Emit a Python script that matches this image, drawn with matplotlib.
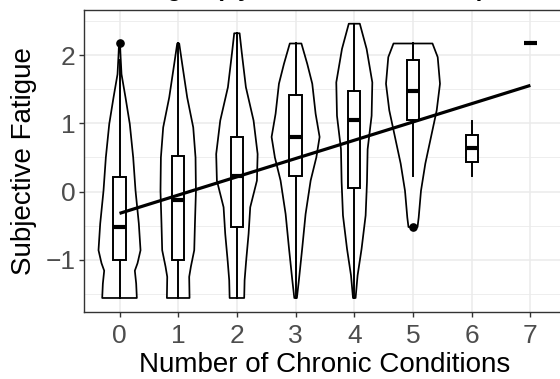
import matplotlib
matplotlib.use("Agg")
import matplotlib.pyplot as plt
import numpy as np

plt.rcParams['font.family'] = ['Liberation Sans', 'DejaVu Sans']

# ---- data ----
groups = [0, 1, 2, 3, 4, 5, 6, 7]
tick_labels = ["0", "1", "2", "3", "4", "5", "6", "7"]

# violin outlines: y levels and half-widths (x units), per group
violin_y = {
    0: [2.17, 2.0, 1.72, 1.38, 0.99, 0.50, 0.01, -0.47, -0.86, -1.05, -1.16, -1.35, -1.56],
    1: [2.17, 1.87, 1.38, 0.94, 0.50, 0.01, -0.47, -0.86, -1.10, -1.25, -1.56],
    2: [2.32, 2.02, 1.53, 1.04, 0.55, 0.16, -0.23, -0.62, -1.01, -1.30, -1.56],
    3: [2.17, 1.87, 1.58, 1.14, 0.80, 0.50, 0.16, -0.33, -0.82, -1.30, -1.56],
    4: [2.46, 2.09, 1.60, 1.11, 0.62, 0.14, -0.35, -0.84, -1.23, -1.56],
    5: [2.17, 1.97, 1.58, 1.19, 0.80, 0.41, 0.01, -0.38, -0.52],
}
violin_hw = {
    0: [0.009, 0.017, 0.034, 0.102, 0.175, 0.233, 0.273, 0.329, 0.358, 0.307, 0.261, 0.284, 0.295],
    1: [0.017, 0.068, 0.153, 0.256, 0.295, 0.302, 0.285, 0.273, 0.216, 0.187, 0.193],
    2: [0.046, 0.085, 0.153, 0.284, 0.353, 0.341, 0.227, 0.199, 0.158, 0.131, 0.124],
    3: [0.099, 0.199, 0.284, 0.341, 0.409, 0.353, 0.256, 0.170, 0.114, 0.056, 0.022],
    4: [0.094, 0.210, 0.307, 0.295, 0.227, 0.216, 0.193, 0.124, 0.056, 0.022],
    5: [0.332, 0.421, 0.460, 0.404, 0.307, 0.210, 0.136, 0.097, 0.077],
}

# boxplot statistics
q1 = [-1.00, -1.00, -0.52, 0.23, 0.05, 1.05, 0.43, 2.17]
med = [-0.52, -0.12, 0.23, 0.80, 1.05, 1.48, 0.64, 2.17]
q3 = [0.22, 0.52, 0.80, 1.42, 1.48, 1.93, 0.835, 2.17]
whis_lo = [-1.56, -1.56, -1.56, -1.56, -1.56, 0.23, 0.23, 2.17]
whis_hi = [1.93, 2.17, 2.32, 2.17, 2.46, 2.17, 1.04, 2.17]
outliers = [[2.17], [], [], [], [], [-0.52], [], []]

# linear fit
fit_intercept = -0.32
fit_slope = 0.268
fit_x = [0, 7]

title = "Fatigue (by Chronic Conditions)"
xlabel = "Number of Chronic Conditions"
ylabel = "Subjective Fatigue"

# ---- plot ----
fig = plt.figure(figsize=(5.6, 3.79), dpi=100)
ax = fig.add_axes([84.3 / 560, (379 - 311.7) / 379, 481.3 / 560, 301.7 / 379])

ax.set_xlim(-0.6, 7.6)
ax.set_ylim(-1.761, 2.661)

# grid
grid_col = "#EBEBEB"
for yv in [-1.5, -0.5, 0.5, 1.5, 2.5]:
    ax.axhline(yv, color=grid_col, lw=0.6, zorder=0)
for yv in [-1, 0, 1, 2]:
    ax.axhline(yv, color=grid_col, lw=1.1, zorder=0)
for xv in groups:
    ax.axvline(xv, color=grid_col, lw=1.1, zorder=0)

# violins
for g in violin_y:
    y = np.array(violin_y[g])
    hw = np.array(violin_hw[g])
    xs = np.concatenate([g - hw, (g + hw)[::-1]])
    ys = np.concatenate([y, y[::-1]])
    ax.fill(xs, ys, facecolor="white", edgecolor="black", lw=1.25, zorder=2,
            joinstyle="round")

# boxplots
stats = []
for i, g in enumerate(groups):
    stats.append(dict(med=med[i], q1=q1[i], q3=q3[i], whislo=whis_lo[i],
                      whishi=whis_hi[i], fliers=outliers[i]))
bp = ax.bxp(stats, positions=groups, widths=0.21, showcaps=False,
            patch_artist=True, manage_ticks=False,
            boxprops=dict(facecolor="white", edgecolor="black", lw=1.4),
            whiskerprops=dict(color="black", lw=1.4),
            medianprops=dict(color="black", lw=3.0, solid_capstyle="butt"),
            flierprops=dict(marker="o", markerfacecolor="black",
                            markeredgecolor="black", markersize=5.2))
for art in bp["boxes"]:
    art.set_zorder(3)
for key in ["whiskers", "medians", "fliers"]:
    for art in bp[key]:
        art.set_zorder(3)

# regression line
fx = np.array(fit_x, dtype=float)
ax.plot(fx, fit_intercept + fit_slope * fx, color="black", lw=2.3, zorder=4,
        solid_capstyle="butt")

# axes styling
ax.set_xticks(groups)
ax.set_xticklabels(tick_labels)
ax.set_yticks([-1, 0, 1, 2])
ax.set_yticklabels(["\u22121", "0", "1", "2"])
for sp in ax.spines.values():
    sp.set_color("#333333")
    sp.set_linewidth(1.0)
ax.tick_params(axis="both", colors="#333333", length=3.5, width=1.0,
               labelsize=19, labelcolor="#4D4D4D")
ax.tick_params(axis="x", pad=5.5)
ax.tick_params(axis="y", pad=3)
ax.set_xlabel(xlabel, fontsize=20, color="black", labelpad=3)
ax.set_ylabel(ylabel, fontsize=20, color="black", labelpad=6)

fig.text(305 / 560, 1 + 4.5 / 379, title, ha="center", va="baseline",
         fontsize=17, fontweight="bold")

fig.savefig("out.png", dpi=100)
